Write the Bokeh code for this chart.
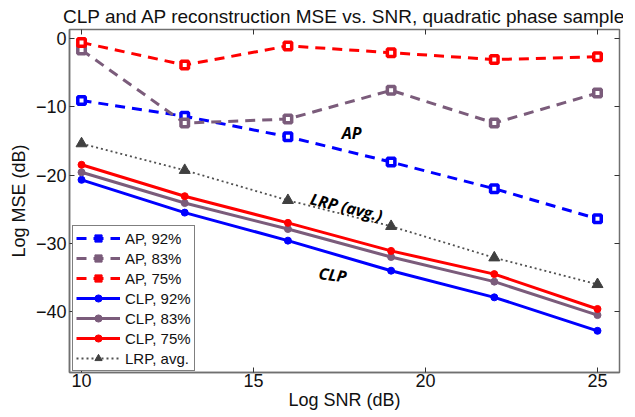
from bokeh.plotting import figure
from bokeh.models import LinearAxis, Legend, LegendItem, FixedTicker, Range1d, Label
from bokeh.embed import file_html
from bokeh.resources import INLINE

snr = [10, 13, 16, 19, 22, 25]
ap_92 = [-9.1, -11.4, -14.4, -18.1, -22.0, -26.4]
ap_83 = [-1.7, -12.4, -11.8, -7.6, -12.4, -8.0]
ap_75 = [-0.6, -3.9, -1.1, -2.1, -3.1, -2.7]
clp_92 = [-20.7, -25.5, -29.6, -34.0, -37.9, -42.8]
clp_83 = [-19.6, -24.1, -27.9, -32.0, -35.6, -40.5]
clp_75 = [-18.5, -23.1, -27.0, -31.1, -34.5, -39.6]
lrp_avg = [-15.4, -19.3, -23.7, -27.5, -32.1, -36.0]
x_ticks = [10, 15, 20, 25]
y_ticks = [0, -10, -20, -30, -40]

FONT = "Liberation Sans"
BLUE = "#0000ff"
PURPLE = "#7b5c7b"
RED = "#ff0000"
GRAY = "#404040"

p = figure(frame_width=550, frame_height=343, output_backend="svg", toolbar_location=None,
           x_range=Range1d(9.65, 25.64), y_range=Range1d(-48.9, 1.3),
           min_border_left=69, min_border_right=4, min_border_top=0, min_border_bottom=0,
           title="CLP and AP reconstruction MSE vs. SNR, quadratic phase sample")
p.title.text_font = FONT
p.title.text_font_size = "19px"
p.title.text_font_style = "normal"
p.title.align = "center"
p.title.text_color = "#111111"
p.title.standoff = 6
p.title.offset = 0
p.grid.visible = False
p.outline_line_color = "#707070"
p.outline_line_width = 1.5

p.xaxis.ticker = FixedTicker(ticks=x_ticks)
p.yaxis.ticker = FixedTicker(ticks=y_ticks)
p.xaxis.axis_label = "Log SNR (dB)"
p.yaxis.axis_label = "Log MSE (dB)"
for ax in p.xaxis + p.yaxis:
    ax.major_tick_in = 5
    ax.major_tick_out = 0
    ax.minor_tick_in = 0
    ax.minor_tick_out = 0
    ax.axis_line_color = "#707070"
    ax.axis_line_width = 1.5
    ax.major_tick_line_color = "#333333"
    ax.major_label_text_font = FONT
    ax.major_label_text_font_size = "18px"
    ax.major_label_text_color = "#111111"
    ax.axis_label_text_font = FONT
    ax.axis_label_text_font_size = "18px"
    ax.axis_label_text_font_style = "normal"
    ax.axis_label_text_color = "#111111"
p.xaxis.major_label_standoff = 1
p.xaxis.axis_label_standoff = 0
p.yaxis.major_label_standoff = 3
p.yaxis.axis_label_standoff = 4

for side, ticks in (("right", y_ticks), ("above", x_ticks)):
    ax = LinearAxis(ticker=FixedTicker(ticks=ticks), major_label_text_font_size="0px",
                    major_tick_in=5, major_tick_out=0, minor_tick_in=0, minor_tick_out=0,
                    axis_line_alpha=0, major_tick_line_color="#333333", major_label_standoff=0)
    p.add_layout(ax, side)

items = []
for ys, col, lab in ((ap_92, BLUE, "AP, 92%"), (ap_83, PURPLE, "AP, 83%"), (ap_75, RED, "AP, 75%")):
    l = p.line(snr, ys, line_color=col, line_width=3, line_dash="10 7")
    s = p.scatter(snr, ys, marker="square", size=7.5, fill_color="white", line_color=col, line_width=3.5)
    # legend shows a filled square, as in the reference
    lg = p.scatter([float("nan")], [float("nan")], marker="square", size=11, fill_color=col, line_color=col)
    items.append(LegendItem(label=lab, renderers=[l, lg]))
for ys, col, lab in ((clp_92, BLUE, "CLP, 92%"), (clp_83, PURPLE, "CLP, 83%"), (clp_75, RED, "CLP, 75%")):
    l = p.line(snr, ys, line_color=col, line_width=3)
    s = p.scatter(snr, ys, marker="circle", size=7, fill_color=col, line_color=col)
    items.append(LegendItem(label=lab, renderers=[l, s]))
l = p.line(snr, lrp_avg, line_color="#505050", line_width=1.8, line_dash="2 3")
s = p.scatter(snr, lrp_avg, marker="triangle", size=11, fill_color=GRAY, line_color=GRAY)
items.append(LegendItem(label="LRP, avg.", renderers=[l, s]))

legend = Legend(items=items, location=(3, 1), label_text_font=FONT, label_text_font_size="15px",
                glyph_width=44, glyph_height=18, label_height=18, spacing=2, padding=3, margin=0,
                label_standoff=5, border_line_color="black", border_line_width=1,
                background_fill_alpha=1, label_text_color="#111111")
p.add_layout(legend, "center")

ann = dict(text_font="Open Sans", text_font_size="16px", text_font_style="bold italic",
           text_align="center", text_baseline="middle", text_color="black")
p.add_layout(Label(x=17.85, y=-13.8, text="AP", **ann))
p.add_layout(Label(x=17.7, y=-24.7, text="LRP (avg.)", angle=-0.24, **ann))
p.add_layout(Label(x=17.3, y=-34.6, text="CLP", angle=-0.13, **ann))

open("out.html", "w").write(file_html(p, INLINE))
